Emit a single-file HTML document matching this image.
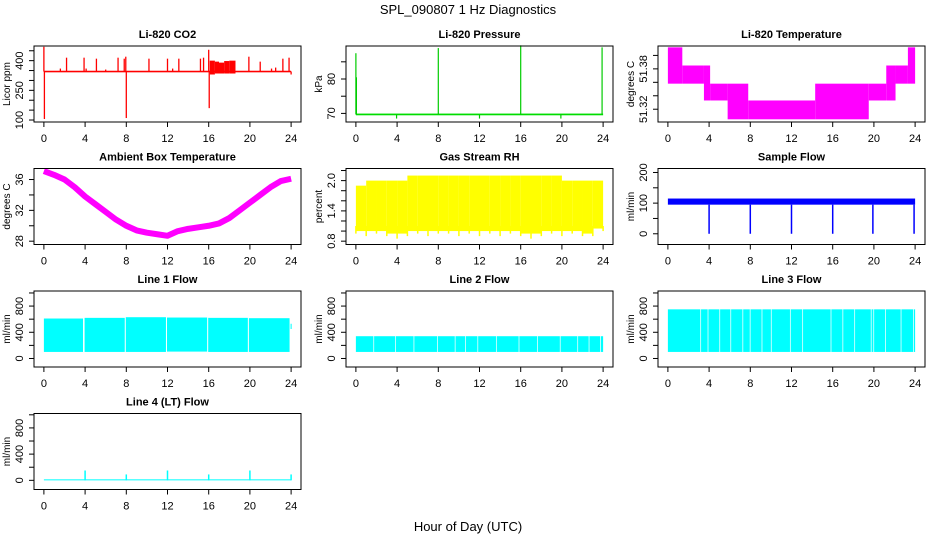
<!DOCTYPE html>
<html><head><meta charset="utf-8"><title>SPL_090807 1 Hz Diagnostics</title>
<style>
body{margin:0;background:#fff;}
svg{display:block;font-family:"Liberation Sans",sans-serif;}
</style></head>
<body>
<svg id="c" width="936" height="540" viewBox="0 0 936 540" xmlns="http://www.w3.org/2000/svg">
<rect width="936" height="540" fill="#fff"/>
<text x="468" y="14" font-size="13" text-anchor="middle">SPL_090807  1 Hz Diagnostics</text>
<text x="468" y="531" font-size="13" text-anchor="middle">Hour of Day (UTC)</text>
</svg>
<script>
// ---- data ----
const xTicks=[0,4,8,12,16,20,24];
// CO2
const co2Base=345;
const co2SpikeT=[0,0.05,1.6,2.2,3.9,4.1,5.1,6.0,7.2,7.8,7.95,8.0,10.2,12.0,12.5,13.1,15.2,15.5,16.0,16.05,19.9,21.0,22.1,22.5,23.2,23.8,24.0];
const co2SpikeV=[470,105,360,415,415,360,410,355,415,410,420,110,410,410,360,410,410,415,455,160,420,395,360,365,410,415,330];
const co2ClusterT=[16.1,16.6,17.0,17.5,18.0,18.6];
const co2ClusterHi=[400,395,390,398,400,395];
const co2ClusterLo=[330,335,335,335,335,335];
// Pressure
const presBase=69.7;
const presSpikeT=[0,0.05,3.95,8.0,12.0,16.0,19.9,23.9];
const presSpikeV=[87.5,80.5,68.5,89.0,68.5,89.8,68.5,89.2];
// Li-820 temperature (quantized levels)
const tempStart=[0,1.4,3.5,4.1,5.8,7.8,14.3,19.5,21.2,22.1,23.3];
const tempEnd=[1.4,3.5,4.1,5.8,7.8,14.3,19.5,21.2,22.1,23.3,24];
const tempLo=[51.358,51.358,51.333,51.333,51.305,51.305,51.305,51.333,51.333,51.358,51.358];
const tempHi=[51.412,51.385,51.385,51.358,51.358,51.333,51.358,51.358,51.385,51.385,51.412];
// Ambient box temperature (hourly)
const ambT=[0,1,2,3,4,5,6,7,8,9,10,11,12,13,14,15,16,17,18,19,20,21,22,23,24];
const ambV=[37.1,36.6,36.0,35.0,33.8,32.8,31.8,30.8,30.0,29.4,29.1,28.9,28.7,29.3,29.6,29.8,30.0,30.3,31.0,32.0,33.0,34.0,35.0,35.8,36.1];
// Gas stream RH (hourly envelope)
const rhHi=[1.9,2.0,2.0,2.0,2.0,2.1,2.1,2.1,2.1,2.1,2.1,2.1,2.1,2.1,2.1,2.1,2.1,2.1,2.1,2.1,2.0,2.0,2.0,2.0,1.9];
const rhLo=[0.95,0.9,0.95,0.9,0.85,0.9,0.95,0.9,0.95,0.95,0.9,0.95,0.9,0.95,0.9,0.95,0.9,0.85,0.9,0.95,0.9,0.95,0.9,0.9,1.0];
// Sample flow
const sampBaseLo=95, sampBaseHi=115;
const sampDipT=[4,8,12,16,19.9,23.9];
const sampDipV=[0,0,0,0,0,0];
// Line flows: segments between purge gaps
const l1Start=[0,3.95,7.95,11.95,15.95,19.9,23.95];
const l1End=[3.8,7.85,11.85,15.85,19.8,23.85,24.05];
const l1Hi=[610,620,630,625,620,615,530];
const l1Lo=[100,100,100,105,100,100,450];
const l2Gaps=[1.7,3.8,5.6,7.9,9.6,10.6,11.8,13.6,15.8,17.6,19.8,21.5,22.6,23.7];
const l2Hi=340, l2Lo=100;
const l3Gaps=[3.15,3.86,5.0,6.07,7.24,7.95,9.1,10.0,11.85,13.05,15.8,16.95,18.1,19.7,19.95,21.1,22.6,23.8];
const l3Hi=750, l3Lo=100;
const l4Base=15;
const l4SpikeT=[4,8,12,16,20,24];
const l4SpikeV=[150,90,150,90,150,90];

// ---- drawing ----
const svg=document.getElementById('c');
const NS='http://www.w3.org/2000/svg';
function el(tag,attrs,parent){const e=document.createElementNS(NS,tag);for(const k in attrs)e.setAttribute(k,attrs[k]);(parent||svg).appendChild(e);return e;}

function panel(col,row,name,title,ylab,ymin,ymax,yticks,ylabels){
  const L=[34,346,658][col], R=L+267, T=46+122.5*row, B=T+76;
  const g=el('g',{});
  
  
  const xs=t=>L+(t+0.96)*267/25.92;
  const ys=v=>B-(v-ymin)/(ymax-ymin)*76;
  const tt=el('text',{x:(L+R)/2,y:T-8,'font-size':11,'font-weight':'bold','text-anchor':'middle'},g);
  tt.textContent=title;
  
  
  const plot=el('g',{},g);
  
  
  const box=el('rect',{x:L,y:T,width:R-L,height:B-T,fill:'none',stroke:'#000','stroke-width':1},g);
  
  
  xTicks.forEach(t=>{
    el('line',{x1:xs(t),x2:xs(t),y1:B,y2:B+5,stroke:'#000'},g);
    const lb=el('text',{x:xs(t),y:B+20,'font-size':11,'text-anchor':'middle'},g);
    lb.textContent=t;
    
    
  });
  yticks.forEach(v=>{el('line',{x1:L,x2:L-5,y1:ys(v),y2:ys(v),stroke:'#000'},g);});
  ylabels.forEach(v=>{
    const lb=el('text',{transform:`translate(${L-11},${ys(+v)}) rotate(-90)`,'font-size':11,'text-anchor':'middle'},g);
    lb.textContent=v;
    
    
  });
  const yl=el('text',{transform:`translate(${L-24},${(T+B)/2}) rotate(-90)`,'font-size':10,'text-anchor':'middle'},g);
  yl.textContent=ylab;
  
  
  return {xs,ys,g:plot};
}
function vline(p,t,v1,v2,col,w){el('line',{x1:p.xs(t),x2:p.xs(t),y1:p.ys(v1),y2:p.ys(v2),stroke:col,'stroke-width':w||1.2},p.g);}
function band(p,t1,t2,lo,hi,col){const x1=p.xs(t1),x2=p.xs(t2),y1=p.ys(hi),y2=p.ys(lo);el('rect',{x:x1,y:y1,width:Math.max(0.8,x2-x1),height:Math.max(1,y2-y1),fill:col},p.g);}
function rng(a,b,s){const r=[];for(let v=a;v<=b+1e-9;v+=s)r.push(+v.toFixed(4));return r;}

// CO2
{const p=panel(0,0,'co2','Li-820 CO2','Licor ppm',90,474,rng(100,450,50),['100','250','400']);
 band(p,0,24,co2Base-4,co2Base+4,'#f00');
 for(let i=0;i<co2ClusterT.length-1;i++)band(p,co2ClusterT[i],co2ClusterT[i+1],co2ClusterLo[i],co2ClusterHi[i],'#f00');
 co2SpikeT.forEach((t,i)=>vline(p,t,co2Base,co2SpikeV[i],'#f00',1.3));}
// Pressure
{const p=panel(1,0,'pressure','Li-820 Pressure','kPa',67.5,89.6,[70,75,80,85],['70','80']);
 band(p,0,24,presBase-0.25,presBase+0.25,'#00dd00');
 presSpikeT.forEach((t,i)=>vline(p,t,presBase,presSpikeV[i],'#00cc00',1.2));}
// Temperature
{const p=panel(2,0,'li820-temperature','Li-820 Temperature','degrees C',51.301,51.414,rng(51.32,51.40,0.02),['51.32','51.38']);
 tempStart.forEach((s,i)=>band(p,s,tempEnd[i],tempLo[i],tempHi[i],'#f0f'));}
// Ambient
{const p=panel(0,1,'ambient-temperature','Ambient Box Temperature','degrees C',27.57,37.43,rng(28,36,2),['28','32','36']);
 el('polyline',{points:ambT.map((t,i)=>p.xs(t)+','+p.ys(ambV[i])).join(' '),fill:'none',stroke:'#f0f','stroke-width':6,'stroke-linejoin':'round'},p.g);}
// RH
{const p=panel(1,1,'gas-stream-rh','Gas Stream RH','percent',0.734,2.24,rng(0.8,2.2,0.2),['0.8','1.4','2.0']);
 for(let i=0;i<24;i++)band(p,i,i+1,Math.max(rhLo[i],rhLo[i+1])+0.05,rhHi[i],'#ff0');
 for(let i=0;i<=24;i++)vline(p,i,1.1,rhLo[i],'#ff0',1.5);}
// Sample flow
{const p=panel(2,1,'sample-flow','Sample Flow','ml/min',-35,213,rng(0,200,50),['0','100','200']);
 band(p,0,24,sampBaseLo,sampBaseHi,'#00f');
 sampDipT.forEach((t,i)=>vline(p,t,sampBaseLo,sampDipV[i],'#00f',1.5));}
// Line 1
{const p=panel(0,2,'line1-flow','Line 1 Flow','ml/min',-130,1030,rng(0,1000,200),['0','400','800']);
 l1Start.forEach((s,i)=>band(p,s,l1End[i],l1Lo[i],l1Hi[i],'#0ff'));}
// Line 2
{const p=panel(1,2,'line2-flow','Line 2 Flow','ml/min',-130,1030,rng(0,1000,200),['0','400','800']);
 const ed=[0,...l2Gaps,24];
 for(let i=0;i<ed.length-1;i++)band(p,ed[i]+(i?0.07:0),ed[i+1],l2Lo,l2Hi,'#0ff');}
// Line 3
{const p=panel(2,2,'line3-flow','Line 3 Flow','ml/min',-130,1030,rng(0,1000,200),['0','400','800']);
 const ed=[0,...l3Gaps,24];
 for(let i=0;i<ed.length-1;i++)band(p,ed[i]+(i?0.07:0),ed[i+1],l3Lo,l3Hi,'#0ff');}
// Line 4
{const p=panel(0,3,'line4-flow','Line 4 (LT) Flow','ml/min',-140,1020,rng(0,1000,200),['0','400','800']);
 band(p,0,24,0,l4Base,'#0ff');
 l4SpikeT.forEach((t,i)=>vline(p,t,0,l4SpikeV[i],'#0ff',1.5));}
</script>
</body></html>
